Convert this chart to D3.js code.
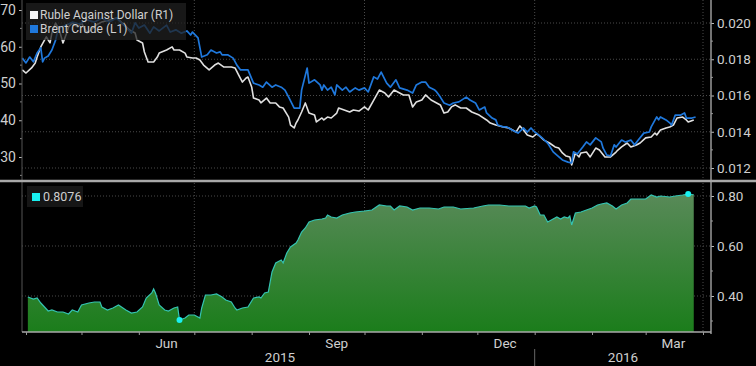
<!DOCTYPE html>
<html>
<head>
<meta charset="utf-8">
<script src="https://cdn.jsdelivr.net/npm/d3@7"></script>
<style>
  html, body { margin: 0; padding: 0; background: #000; }
  svg { display: block; }
  text { font-family: Roboto, "Liberation Sans", sans-serif; fill: #cfcfcf; }
</style>
</head>
<body>
<svg id="chart" width="756" height="366"></svg>
<script>
// Brent Crude, USD/bbl (left axis)
const brent = [
  ['2015-03-30', 56.9], ['2015-04-01', 55.6], ['2015-04-03', 57.2], ['2015-04-05', 55.9],
  ['2015-04-07', 58.3], ['2015-04-09', 59.7], ['2015-04-10', 55.9], ['2015-04-11', 56.9],
  ['2015-04-13', 57.5], ['2015-04-15', 59.1], ['2015-04-17', 61.8], ['2015-04-18', 64.0],
  ['2015-04-20', 65.4], ['2015-04-23', 65.9], ['2015-04-26', 66.7], ['2015-04-30', 66.2],
  ['2015-05-04', 67.3], ['2015-05-08', 66.7], ['2015-05-12', 67.8], ['2015-05-16', 66.7],
  ['2015-05-20', 67.8], ['2015-05-23', 66.2], ['2015-05-25', 65.4], ['2015-05-28', 63.7],
  ['2015-05-30', 66.5], ['2015-06-01', 65.1], ['2015-06-04', 65.9], ['2015-06-07', 63.7],
  ['2015-06-09', 65.4], ['2015-06-12', 64.3], ['2015-06-16', 65.9], ['2015-06-18', 64.0],
  ['2015-06-21', 64.6], ['2015-06-24', 63.7], ['2015-06-27', 64.3], ['2015-06-29', 63.2],
  ['2015-06-30', 64.0], ['2015-07-03', 62.4], ['2015-07-05', 57.2], ['2015-07-08', 57.8],
  ['2015-07-10', 59.1], ['2015-07-13', 58.3], ['2015-07-15', 58.6], ['2015-07-16', 57.8],
  ['2015-07-19', 57.8], ['2015-07-22', 56.9], ['2015-07-24', 55.0], ['2015-07-26', 53.7],
  ['2015-07-30', 53.7], ['2015-08-02', 50.1], ['2015-08-05', 49.6], ['2015-08-07', 49.0],
  ['2015-08-09', 50.4], ['2015-08-12', 49.0], ['2015-08-14', 49.6], ['2015-08-17', 49.0],
  ['2015-08-19', 48.2], ['2015-08-21', 46.3], ['2015-08-24', 43.3], ['2015-08-27', 43.3],
  ['2015-08-28', 48.2], ['2015-08-31', 54.2], ['2015-09-01', 50.1], ['2015-09-04', 51.0],
  ['2015-09-07', 49.6], ['2015-09-08', 48.2], ['2015-09-09', 49.6], ['2015-09-11', 48.2],
  ['2015-09-13', 49.0], ['2015-09-15', 46.9], ['2015-09-16', 49.6], ['2015-09-19', 48.2],
  ['2015-09-21', 49.0], ['2015-09-23', 47.7], ['2015-09-26', 48.8], ['2015-09-28', 48.2],
  ['2015-10-01', 48.8], ['2015-10-03', 47.7], ['2015-10-06', 51.8], ['2015-10-08', 51.2],
  ['2015-10-10', 53.1], ['2015-10-13', 50.1], ['2015-10-15', 49.0], ['2015-10-18', 51.0],
  ['2015-10-20', 48.8], ['2015-10-24', 48.2], ['2015-10-27', 47.4], ['2015-10-29', 49.6],
  ['2015-11-01', 50.4], ['2015-11-03', 50.4], ['2015-11-05', 49.0], ['2015-11-08', 48.2],
  ['2015-11-09', 47.7], ['2015-11-11', 46.3], ['2015-11-13', 44.7], ['2015-11-16', 44.1],
  ['2015-11-18', 44.7], ['2015-11-21', 45.0], ['2015-11-25', 46.3], ['2015-11-27', 45.5],
  ['2015-11-30', 44.7], ['2015-12-02', 42.8], ['2015-12-05', 43.6], ['2015-12-06', 42.0],
  ['2015-12-09', 40.6], ['2015-12-11', 40.1], ['2015-12-12', 38.7], ['2015-12-15', 38.2],
  ['2015-12-17', 38.2], ['2015-12-20', 37.3], ['2015-12-23', 36.5], ['2015-12-26', 37.9],
  ['2015-12-28', 36.8], ['2015-12-30', 37.9], ['2016-01-01', 36.8], ['2016-01-02', 36.5],
  ['2016-01-05', 35.2], ['2016-01-08', 33.8], ['2016-01-11', 31.4], ['2016-01-13', 30.5],
  ['2016-01-16', 29.2], ['2016-01-19', 28.6], ['2016-01-21', 28.4], ['2016-01-22', 31.4],
  ['2016-01-24', 30.8], ['2016-01-27', 32.7], ['2016-01-29', 34.1], ['2016-01-31', 33.3],
  ['2016-02-03', 35.2], ['2016-02-06', 34.1], ['2016-02-07', 32.4], ['2016-02-09', 30.5],
  ['2016-02-11', 30.3], ['2016-02-13', 33.3], ['2016-02-14', 32.7], ['2016-02-17', 34.6],
  ['2016-02-19', 34.1], ['2016-02-22', 34.6], ['2016-02-24', 33.3], ['2016-02-26', 34.6],
  ['2016-02-29', 36.5], ['2016-03-03', 36.8], ['2016-03-04', 38.2], ['2016-03-07', 40.9],
  ['2016-03-08', 40.1], ['2016-03-09', 40.9], ['2016-03-12', 40.1], ['2016-03-14', 39.3],
  ['2016-03-15', 38.7], ['2016-03-17', 41.4], ['2016-03-20', 41.4], ['2016-03-22', 42.0],
  ['2016-03-23', 40.6], ['2016-03-26', 40.6], ['2016-03-28', 40.9]
];

// Ruble against dollar, USD per RUB (right axis)
const ruble = [
  ['2015-03-30', 0.01741], ['2015-04-01', 0.01724], ['2015-04-04', 0.01752], ['2015-04-06', 0.01779],
  ['2015-04-07', 0.01812], ['2015-04-09', 0.01868], ['2015-04-11', 0.01906], ['2015-04-12', 0.01923],
  ['2015-04-14', 0.01890], ['2015-04-15', 0.01945], ['2015-04-17', 0.02000], ['2015-04-19', 0.01961],
  ['2015-04-21', 0.01890], ['2015-04-23', 0.01945], ['2015-04-24', 0.01978], ['2015-04-26', 0.02000],
  ['2015-04-29', 0.01978], ['2015-05-01', 0.02000], ['2015-05-04', 0.01945], ['2015-05-06', 0.01961],
  ['2015-05-09', 0.01989], ['2015-05-12', 0.02006], ['2015-05-16', 0.02017], ['2015-05-20', 0.02028],
  ['2015-05-23', 0.02000], ['2015-05-27', 0.01961], ['2015-05-30', 0.01945], ['2015-05-31', 0.01906],
  ['2015-06-03', 0.01890], ['2015-06-04', 0.01840], ['2015-06-06', 0.01785], ['2015-06-09', 0.01785],
  ['2015-06-11', 0.01812], ['2015-06-12', 0.01834], ['2015-06-16', 0.01851], ['2015-06-19', 0.01868],
  ['2015-06-20', 0.01851], ['2015-06-23', 0.01851], ['2015-06-26', 0.01834], ['2015-06-27', 0.01812],
  ['2015-06-30', 0.01807], ['2015-07-02', 0.01807], ['2015-07-04', 0.01796], ['2015-07-06', 0.01768],
  ['2015-07-09', 0.01741], ['2015-07-12', 0.01768], ['2015-07-14', 0.01779], ['2015-07-17', 0.01757],
  ['2015-07-21', 0.01757], ['2015-07-23', 0.01752], ['2015-07-25', 0.01713], ['2015-07-27', 0.01674],
  ['2015-07-29', 0.01697], ['2015-07-30', 0.01702], ['2015-08-01', 0.01647], ['2015-08-02', 0.01586],
  ['2015-08-05', 0.01575], ['2015-08-06', 0.01559], ['2015-08-09', 0.01586], ['2015-08-11', 0.01559],
  ['2015-08-14', 0.01559], ['2015-08-16', 0.01537], ['2015-08-18', 0.01531], ['2015-08-21', 0.01481],
  ['2015-08-22', 0.01437], ['2015-08-24', 0.01421], ['2015-08-25', 0.01448], ['2015-08-26', 0.01465],
  ['2015-08-28', 0.01509], ['2015-08-30', 0.01559], ['2015-09-01', 0.01503], ['2015-09-04', 0.01492],
  ['2015-09-05', 0.01454], ['2015-09-08', 0.01476], ['2015-09-09', 0.01465], ['2015-09-11', 0.01481],
  ['2015-09-13', 0.01476], ['2015-09-16', 0.01503], ['2015-09-17', 0.01531], ['2015-09-20', 0.01520],
  ['2015-09-23', 0.01509], ['2015-09-25', 0.01520], ['2015-09-28', 0.01514], ['2015-10-01', 0.01537],
  ['2015-10-03', 0.01520], ['2015-10-06', 0.01575], ['2015-10-09', 0.01630], ['2015-10-12', 0.01614],
  ['2015-10-14', 0.01592], ['2015-10-17', 0.01630], ['2015-10-20', 0.01614], ['2015-10-22', 0.01603],
  ['2015-10-25', 0.01603], ['2015-10-27', 0.01537], ['2015-10-29', 0.01564], ['2015-11-01', 0.01575],
  ['2015-11-03', 0.01603], ['2015-11-06', 0.01575], ['2015-11-09', 0.01559], ['2015-11-11', 0.01548],
  ['2015-11-13', 0.01503], ['2015-11-15', 0.01509], ['2015-11-17', 0.01537], ['2015-11-19', 0.01548],
  ['2015-11-22', 0.01531], ['2015-11-25', 0.01531], ['2015-11-28', 0.01509], ['2015-12-02', 0.01492],
  ['2015-12-06', 0.01465], ['2015-12-08', 0.01448], ['2015-12-11', 0.01437], ['2015-12-15', 0.01426],
  ['2015-12-18', 0.01421], ['2015-12-22', 0.01399], ['2015-12-24', 0.01432], ['2015-12-26', 0.01410],
  ['2015-12-28', 0.01382], ['2015-12-31', 0.01371], ['2016-01-02', 0.01388], ['2016-01-03', 0.01382],
  ['2016-01-06', 0.01354], ['2016-01-09', 0.01338], ['2016-01-12', 0.01316], ['2016-01-14', 0.01310],
  ['2016-01-16', 0.01283], ['2016-01-18', 0.01266], ['2016-01-20', 0.01261], ['2016-01-21', 0.01217],
  ['2016-01-23', 0.01283], ['2016-01-25', 0.01261], ['2016-01-26', 0.01283], ['2016-01-29', 0.01288],
  ['2016-01-31', 0.01261], ['2016-02-03', 0.01310], ['2016-02-05', 0.01299], ['2016-02-08', 0.01261],
  ['2016-02-11', 0.01261], ['2016-02-14', 0.01288], ['2016-02-15', 0.01299], ['2016-02-17', 0.01316],
  ['2016-02-20', 0.01338], ['2016-02-22', 0.01316], ['2016-02-25', 0.01327], ['2016-02-27', 0.01338],
  ['2016-03-01', 0.01366], ['2016-03-04', 0.01371], ['2016-03-06', 0.01393], ['2016-03-07', 0.01382],
  ['2016-03-09', 0.01410], ['2016-03-12', 0.01421], ['2016-03-14', 0.01426], ['2016-03-16', 0.01437],
  ['2016-03-18', 0.01476], ['2016-03-21', 0.01481], ['2016-03-23', 0.01465], ['2016-03-24', 0.01454],
  ['2016-03-27', 0.01465]
];

// rolling correlation (lower panel)
const corr = [
  ['2015-04-02', 0.396], ['2015-04-05', 0.388], ['2015-04-07', 0.392], ['2015-04-09', 0.372],
  ['2015-04-11', 0.356], ['2015-04-13', 0.340], ['2015-04-15', 0.344], ['2015-04-18', 0.336],
  ['2015-04-21', 0.336], ['2015-04-24', 0.328], ['2015-04-26', 0.344], ['2015-04-29', 0.336],
  ['2015-05-01', 0.364], ['2015-05-05', 0.372], ['2015-05-08', 0.376], ['2015-05-11', 0.376],
  ['2015-05-12', 0.356], ['2015-05-15', 0.344], ['2015-05-18', 0.352], ['2015-05-21', 0.364],
  ['2015-05-25', 0.344], ['2015-05-28', 0.332], ['2015-05-31', 0.336], ['2015-06-03', 0.356],
  ['2015-06-05', 0.392], ['2015-06-08', 0.412], ['2015-06-09', 0.428], ['2015-06-10', 0.412],
  ['2015-06-12', 0.364], ['2015-06-15', 0.344], ['2015-06-17', 0.340], ['2015-06-20', 0.352],
  ['2015-06-22', 0.356], ['2015-06-23', 0.304], ['2015-06-26', 0.312], ['2015-06-28', 0.324],
  ['2015-07-01', 0.324], ['2015-07-04', 0.312], ['2015-07-05', 0.352], ['2015-07-07', 0.404],
  ['2015-07-10', 0.404], ['2015-07-13', 0.408], ['2015-07-16', 0.396], ['2015-07-18', 0.384],
  ['2015-07-21', 0.376], ['2015-07-23', 0.352], ['2015-07-24', 0.344], ['2015-07-27', 0.352],
  ['2015-07-30', 0.356], ['2015-08-02', 0.392], ['2015-08-05', 0.396], ['2015-08-06', 0.392],
  ['2015-08-08', 0.412], ['2015-08-10', 0.416], ['2015-08-12', 0.496], ['2015-08-14', 0.532],
  ['2015-08-17', 0.544], ['2015-08-18', 0.532], ['2015-08-20', 0.572], ['2015-08-22', 0.596],
  ['2015-08-25', 0.612], ['2015-08-26', 0.624], ['2015-08-28', 0.656], ['2015-08-30', 0.672],
  ['2015-09-01', 0.696], ['2015-09-04', 0.704], ['2015-09-08', 0.708], ['2015-09-10', 0.712],
  ['2015-09-11', 0.724], ['2015-09-13', 0.716], ['2015-09-16', 0.712], ['2015-09-19', 0.724],
  ['2015-09-23', 0.732], ['2015-09-26', 0.736], ['2015-10-01', 0.740], ['2015-10-05', 0.744],
  ['2015-10-09', 0.764], ['2015-10-13', 0.760], ['2015-10-15', 0.760], ['2015-10-17', 0.744],
  ['2015-10-20', 0.760], ['2015-10-24', 0.756], ['2015-10-27', 0.744], ['2015-10-31', 0.752],
  ['2015-11-05', 0.752], ['2015-11-10', 0.748], ['2015-11-13', 0.756], ['2015-11-18', 0.756],
  ['2015-11-22', 0.748], ['2015-11-29', 0.752], ['2015-12-04', 0.760], ['2015-12-07', 0.764],
  ['2015-12-13', 0.764], ['2015-12-18', 0.760], ['2015-12-24', 0.760], ['2015-12-27', 0.760],
  ['2015-12-29', 0.752], ['2016-01-01', 0.760], ['2016-01-02', 0.756], ['2016-01-04', 0.724],
  ['2016-01-06', 0.724], ['2016-01-08', 0.696], ['2016-01-10', 0.704], ['2016-01-13', 0.716],
  ['2016-01-15', 0.708], ['2016-01-17', 0.716], ['2016-01-19', 0.712], ['2016-01-20', 0.720],
  ['2016-01-21', 0.684], ['2016-01-23', 0.732], ['2016-01-26', 0.736], ['2016-01-29', 0.744],
  ['2016-02-01', 0.752], ['2016-02-04', 0.764], ['2016-02-06', 0.768], ['2016-02-09', 0.772],
  ['2016-02-12', 0.760], ['2016-02-14', 0.748], ['2016-02-17', 0.764], ['2016-02-20', 0.772],
  ['2016-02-22', 0.788], ['2016-02-26', 0.788], ['2016-03-01', 0.788], ['2016-03-04', 0.804],
  ['2016-03-07', 0.796], ['2016-03-09', 0.800], ['2016-03-14', 0.796], ['2016-03-17', 0.800],
  ['2016-03-21', 0.804], ['2016-03-24', 0.8076], ['2016-03-27', 0.805]
];

const brentTicks = [30, 40, 50, 60, 70];
const brentMinor = [25, 35, 45, 55, 65];
const rubleTicks = [0.012, 0.014, 0.016, 0.018, 0.020];
const rubleMinor = [0.013, 0.015, 0.017, 0.019];
const corrTicks = [0.40, 0.60, 0.80];
const corrMinor = [0.30, 0.50, 0.70];
const monthLabels = [['2015-06-16', 'Jun'], ['2015-09-16', 'Sep'], ['2015-12-16', 'Dec'], ['2016-03-16', 'Mar']];
const yearLabels = [['2015', 280], ['2016', 623]];
const legendTop = [['Ruble Against Dollar (R1)', '#f2f2f2'], ['Brent Crude (L1)', '#1f78dc']];
const lastCorr = '0.8076';

const parse = d3.timeParse('%Y-%m-%d');
const svg = d3.select('#chart');

const x = d3.scaleTime()
  .domain([new Date(2015, 3, 1), new Date(2016, 3, 1)])
  .range([26, 703]);
const yL = d3.scaleLinear().domain([30, 70]).range([157, 10]);
const yR = d3.scaleLinear().domain([0.012, 0.020]).range([168, 23]);
const yC = d3.scaleLinear().domain([0.40, 0.80]).range([296, 196]);

const leftX = 22, rightX = 711, baseY = 332;
const grid = '#4a4a4a';

// Gradient for correlation area
const defs = svg.append('defs');
const grad = defs.append('linearGradient')
  .attr('id', 'corrFill')
  .attr('gradientUnits', 'userSpaceOnUse')
  .attr('x1', 0).attr('x2', 0).attr('y1', 190).attr('y2', baseY);
grad.append('stop').attr('offset', 0).attr('stop-color', '#5a8a5a');
grad.append('stop').attr('offset', 1).attr('stop-color', '#1b7d1b');

// Horizontal grid lines
svg.append('g').selectAll('line').data(rubleTicks).join('line')
  .attr('x1', leftX).attr('x2', rightX)
  .attr('y1', d => yR(d)).attr('y2', d => yR(d))
  .attr('stroke', grid).attr('stroke-dasharray', '1,2');
svg.append('g').selectAll('line').data(corrTicks).join('line')
  .attr('x1', leftX).attr('x2', rightX)
  .attr('y1', d => yC(d)).attr('y2', d => yC(d))
  .attr('stroke', grid).attr('stroke-dasharray', '1,2');

// Vertical grid at quarter starts
const quarters = [new Date(2015, 6, 1), new Date(2015, 9, 1), new Date(2016, 0, 1), new Date(2016, 3, 1)];
svg.append('g').selectAll('line').data(quarters).join('line')
  .attr('x1', d => x(d)).attr('x2', d => x(d))
  .attr('y1', 0).attr('y2', baseY)
  .attr('stroke', grid).attr('stroke-dasharray', '1,2');

// Correlation area
const corrData = corr.map(([d, v]) => ({ date: parse(d), v }));
svg.append('path')
  .datum(corrData)
  .attr('fill', 'url(#corrFill)')
  .attr('d', d3.area().x(d => x(d.date)).y0(baseY).y1(d => yC(d.v)));
svg.append('path')
  .datum(corrData)
  .attr('fill', 'none')
  .attr('stroke', '#35c4b2')
  .attr('stroke-width', 1.2)
  .attr('d', d3.line().x(d => x(d.date)).y(d => yC(d.v)));

// Min / max markers
const cMin = d3.least(corrData, d => d.v);
const cMax = d3.greatest(corrData, d => d.v);
svg.append('g').selectAll('circle').data([cMin, cMax]).join('circle')
  .attr('cx', d => x(d.date)).attr('cy', d => yC(d.v))
  .attr('r', 3).attr('fill', '#19f0f0');

// Price lines
const brentData = brent.map(([d, v]) => ({ date: parse(d), v }));
const rubleData = ruble.map(([d, v]) => ({ date: parse(d), v }));
svg.append('path')
  .datum(rubleData)
  .attr('fill', 'none').attr('stroke', '#e0e0e0').attr('stroke-width', 1.6)
  .attr('stroke-linejoin', 'round')
  .attr('d', d3.line().x(d => x(d.date)).y(d => yR(d.v)));
svg.append('path')
  .datum(brentData)
  .attr('fill', 'none').attr('stroke', '#1f78dc').attr('stroke-width', 1.7)
  .attr('stroke-linejoin', 'round')
  .attr('d', d3.line().x(d => x(d.date)).y(d => yL(d.v)));

// Left axis (top panel)
svg.append('g')
  .attr('transform', `translate(${leftX},0)`)
  .call(d3.axisLeft(yL).tickValues(brentTicks).tickSize(3).tickPadding(3))
  .call(g => g.select('.domain').remove())
  .call(g => g.selectAll('line').attr('stroke', '#bbb'))
  .call(g => g.selectAll('text').attr('font-size', 14).attr('fill', '#cfcfcf').attr('font-family', 'Roboto'));
svg.append('g').selectAll('line').data(brentMinor.filter(d => yL(d) < 178)).join('line')
  .attr('x1', leftX - 2).attr('x2', leftX)
  .attr('y1', d => yL(d)).attr('y2', d => yL(d))
  .attr('stroke', '#888');
svg.append('line')
  .attr('x1', leftX).attr('x2', leftX).attr('y1', 0).attr('y2', baseY)
  .attr('stroke', '#555');

// Right axes
const styleRight = g => g
  .call(g => g.select('.domain').remove())
  .call(g => g.selectAll('line').attr('stroke', '#bbb'))
  .call(g => g.selectAll('text').attr('font-size', 13.5).attr('fill', '#cfcfcf').attr('font-family', 'Roboto'));
svg.append('g')
  .attr('transform', `translate(${rightX},0)`)
  .call(d3.axisRight(yR).tickValues(rubleTicks).tickFormat(d3.format('.3f')).tickSize(3).tickPadding(3))
  .call(styleRight);
svg.append('g')
  .attr('transform', `translate(${rightX},0)`)
  .call(d3.axisRight(yC).tickValues(corrTicks).tickFormat(d3.format('.2f')).tickSize(3).tickPadding(3))
  .call(styleRight);
svg.append('g').selectAll('line')
  .data(rubleMinor.map(yR).concat(corrMinor.map(yC)))
  .join('line')
  .attr('x1', rightX).attr('x2', rightX + 2)
  .attr('y1', d => d).attr('y2', d => d)
  .attr('stroke', '#999');
svg.append('line')
  .attr('x1', rightX).attr('x2', rightX).attr('y1', 0).attr('y2', baseY + 2)
  .attr('stroke', '#9a9a9a').attr('stroke-width', 1.5);

// Panel separator
svg.append('line')
  .attr('x1', 0).attr('x2', 756).attr('y1', 181).attr('y2', 181)
  .attr('stroke', '#a8a8a8').attr('stroke-width', 2.5);

// Bottom axis
const months = d3.timeMonth.range(new Date(2015, 3, 1), new Date(2016, 3, 2));
svg.append('g')
  .attr('transform', `translate(0,${baseY})`)
  .call(d3.axisBottom(x).tickValues(months).tickSize(3).tickFormat(''))
  .call(g => g.select('.domain').attr('d', `M${leftX},0H${rightX}`).attr('stroke', '#a8a8a8').attr('stroke-width', 1.5))
  .call(g => g.selectAll('.tick line').attr('stroke', '#999'));

svg.append('g').selectAll('text').data(monthLabels).join('text')
  .attr('x', d => x(parse(d[0])))
  .attr('y', 348)
  .attr('text-anchor', 'middle')
  .attr('font-size', 13.5)
  .text(d => d[1]);
svg.append('g').selectAll('text').data(yearLabels).join('text')
  .attr('x', d => d[1])
  .attr('y', 362)
  .attr('text-anchor', 'middle')
  .attr('font-size', 13.5)
  .text(d => d[0]);
svg.append('line')
  .attr('x1', x(new Date(2016, 0, 1))).attr('x2', x(new Date(2016, 0, 1)))
  .attr('y1', 349).attr('y2', 366)
  .attr('stroke', '#666');

// Legends
const lg = svg.append('g').attr('transform', 'translate(26,3)');
lg.append('rect').attr('width', 160).attr('height', 37).attr('fill', '#202020').attr('opacity', 0.75);
legendTop.forEach(([label, c], i) => {
  lg.append('rect').attr('x', 4).attr('y', 8 + i * 14).attr('width', 8).attr('height', 8).attr('fill', c);
  lg.append('text').attr('x', 14).attr('y', 16 + i * 14).attr('font-size', 12).text(label);
});

const lc = svg.append('g').attr('transform', 'translate(27,186)');
lc.append('rect').attr('width', 56).attr('height', 21).attr('fill', '#1a1a1a').attr('opacity', 0.85);
lc.append('rect').attr('x', 5).attr('y', 7).attr('width', 8).attr('height', 8).attr('fill', '#19f0f0');
lc.append('text').attr('x', 16).attr('y', 15).attr('font-size', 12.5).text(lastCorr);
</script>
</body>
</html>
